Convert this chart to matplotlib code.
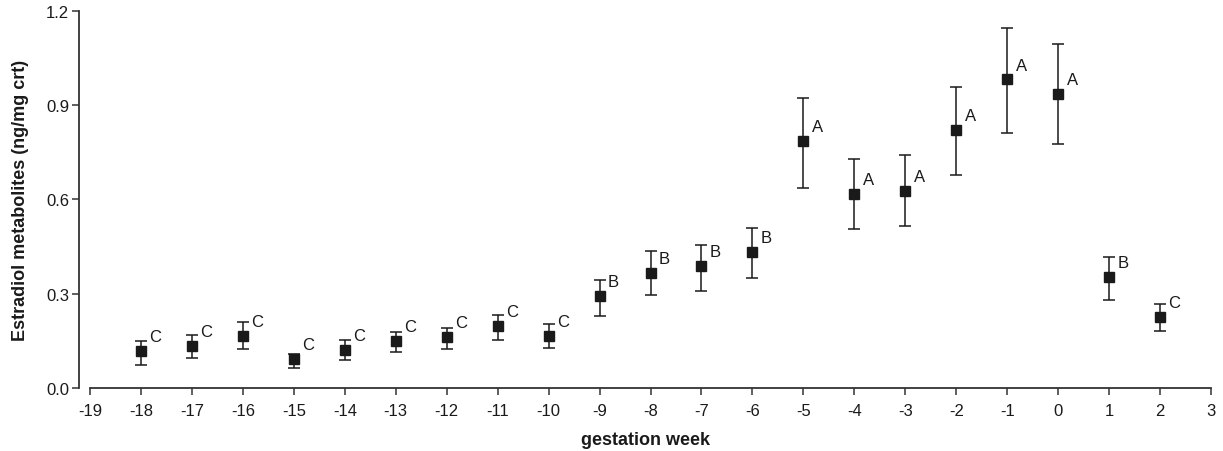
import numpy as np
import matplotlib.pyplot as plt
from matplotlib.ticker import FormatStrFormatter

plt.rcParams['font.family'] = ['Liberation Sans', 'DejaVu Sans']
plt.rcParams['axes.unicode_minus'] = False

# weekly means with upper / lower error limits
weeks = [-18, -17, -16, -15, -14, -13, -12, -11, -10, -9, -8, -7, -6,
         -5, -4, -3, -2, -1, 0, 1, 2]
mean = [0.117, 0.135, 0.166, 0.092, 0.121, 0.150, 0.162, 0.197, 0.165, 0.292,
        0.367, 0.387, 0.432, 0.785, 0.619, 0.628, 0.820, 0.982, 0.935, 0.353, 0.226]
upper = [0.150, 0.169, 0.210, 0.108, 0.154, 0.179, 0.191, 0.233, 0.204, 0.345,
         0.435, 0.456, 0.509, 0.922, 0.728, 0.743, 0.957, 1.145, 1.094, 0.416, 0.268]
lower = [0.074, 0.094, 0.124, 0.065, 0.089, 0.114, 0.124, 0.153, 0.127, 0.230,
         0.295, 0.310, 0.349, 0.637, 0.506, 0.517, 0.678, 0.813, 0.778, 0.281, 0.180]
groups = ['C', 'C', 'C', 'C', 'C', 'C', 'C', 'C', 'C', 'B',
          'B', 'B', 'B', 'A', 'A', 'A', 'A', 'A', 'A', 'B', 'C']

mean = np.array(mean)
yerr = [mean - np.array(lower), np.array(upper) - mean]

ink = '#1a1a1a'

fig = plt.figure(figsize=(12.23, 4.52), dpi=100)
ax = fig.add_axes([0.0646, 0.1394, 0.9256, 0.8341])

ax.errorbar(weeks, mean, yerr=yerr, fmt='s', color=ink, ms=6.5,
            ecolor=ink, elinewidth=1.1, capsize=4, capthick=1.1)

for w, m, g in zip(weeks, mean, groups):
    ax.annotate(g, (w, m), xytext=(6, 5), textcoords='offset points',
                fontsize=12, color=ink, ha='left', va='bottom')

ax.set_xlim(-19.216, 3)
ax.set_ylim(0, 1.2)
ax.set_xticks(np.arange(-19, 4, 1))
ax.set_yticks([0.0, 0.3, 0.6, 0.9, 1.2])
ax.yaxis.set_major_formatter(FormatStrFormatter('%.1f'))

for side in ['top', 'right']:
    ax.spines[side].set_visible(False)
ax.spines['bottom'].set_bounds(-19, 3)
for side in ['left', 'bottom']:
    ax.spines[side].set_linewidth(1.3)
    ax.spines[side].set_color('#333333')

ax.tick_params(direction='out', length=5, width=1.1, color='#333333',
               labelsize=12, labelcolor=ink)
ax.tick_params(axis='x', pad=6)
ax.tick_params(axis='y', pad=2)

ax.set_xlabel('gestation week', fontsize=13, fontweight='bold', color=ink, labelpad=9)
ax.set_ylabel('Estradiol metabolites (ng/mg crt)', fontsize=13, fontweight='bold',
              color=ink, labelpad=12)

fig.savefig('out.png', dpi=100)
